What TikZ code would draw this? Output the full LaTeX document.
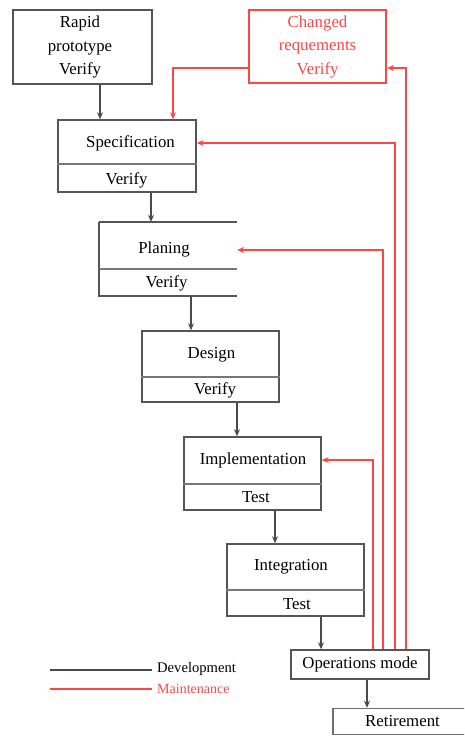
\documentclass[tikz,border=0pt]{standalone}
\usepackage{fontspec}
\setmainfont{Liberation Serif}
\usetikzlibrary{arrows.meta}
\definecolor{edge}{HTML}{555555}
\definecolor{devline}{HTML}{4A4A4A}
\definecolor{maint}{HTML}{FF4545}
\tikzset{
  phase/.style={draw=edge, line width=1.5pt, inner sep=0pt},
  phasetxt/.style={inner sep=0pt, align=center, font=\fontsize{16.8}{23.5}\selectfont},
  divider/.style={draw=edge!80, line width=1.2pt},
  dev/.style={draw=devline, line width=1.2pt, -{Stealth[length=7pt,width=6pt]}},
  mnt/.style={draw=maint, line width=1.8pt, -{Stealth[length=7pt,width=6pt]}},
  keytxt/.style={inner sep=0pt, anchor=west},
}
\begin{document}
\begin{tikzpicture}[x=1pt,y=-1pt]
\useasboundingbox (0,0) rectangle (464,736);
\clip (0,0) rectangle (464,736);

% ---- phase boxes ----
\node[phase, line width=2.6pt, minimum width=139pt, minimum height=74pt] (rapid) at (82.5,47) {};
\node[phasetxt] at (80,47) {Rapid\\prototype\\Verify};

\node[phase, draw=maint, line width=2pt, minimum width=137pt, minimum height=73pt] (changed) at (317.5,46.5) {};
\node[phasetxt, text=maint] at (317.5,46.5) {Changed\\requements\\Verify};

\node[phase, minimum width=138pt, minimum height=72pt] (spec) at (127,156) {};
\draw[divider] (spec.west |- 0,164) -- (spec.east |- 0,164);
\node[phasetxt] at (130.5,143) {Specification};
\node[phasetxt] at (126.5,180) {Verify};

% the planning box is open on its right-hand side
\node[inner sep=0pt, minimum width=138pt, minimum height=74pt] (plan) at (168,259) {};
\draw[draw=edge, line width=1.5pt] (plan.north west) -- (plan.south west) -- (plan.south east);
\draw[draw=edge, line width=2.6pt] (plan.north west) -- (plan.north east);
\draw[divider] (plan.west |- 0,269) -- (plan.east |- 0,269);
\node[phasetxt] at (164,249) {Planing};
\node[phasetxt] at (166.5,283) {Verify};

\node[phase, minimum width=137pt, minimum height=71pt] (design) at (210.5,366.5) {};
\draw[divider] (design.west |- 0,377) -- (design.east |- 0,377);
\node[phasetxt] at (211.5,355) {Design};
\node[phasetxt] at (215,390) {Verify};

\node[phase, minimum width=137pt, minimum height=73pt] (impl) at (252.5,473.5) {};
\draw[divider] (impl.west |- 0,484) -- (impl.east |- 0,484);
\node[phasetxt] at (253,460) {Implementation};
\node[phasetxt] at (256,497) {Test};

\node[phase, minimum width=137pt, minimum height=72pt] (integ) at (295.5,580) {};
\draw[divider] (integ.west |- 0,590) -- (integ.east |- 0,590);
\node[phasetxt] at (291,567) {Integration};
\node[phasetxt] at (297,604) {Test};

\node[phase, minimum width=138pt, minimum height=29pt] (ops) at (360,664.5) {};
\node[phasetxt] at (360,664) {Operations mode};

\node[phase, draw=edge!85, minimum width=147pt, minimum height=26pt] (retire) at (406.5,721.5) {};
\node[phasetxt] at (402.5,721) {Retirement};

% ---- development flow ----
\coordinate (d1) at (100,0);
\coordinate (d2) at (151,0);
\coordinate (d3) at (191,0);
\coordinate (d4) at (237,0);
\coordinate (d5) at (275,0);
\coordinate (d6) at (321,0);
\coordinate (d7) at (367,0);
\draw[dev] (d1 |- rapid.south) -- (d1 |- spec.north);
\draw[dev] (d2 |- spec.south) -- (d2 |- plan.north);
\draw[dev] (d3 |- plan.south) -- (d3 |- design.north);
\draw[dev] (d4 |- design.south) -- (d4 |- impl.north);
\draw[dev] (d5 |- impl.south) -- (d5 |- integ.north);
\draw[dev] (d6 |- integ.south) -- (d6 |- ops.north);
\draw[dev] (d7 |- ops.south) -- (d7 |- retire.north);

% ---- maintenance feedback ----
\coordinate (t1) at (373,460);
\coordinate (t2) at (383,250);
\coordinate (t3) at (395,143);
\coordinate (t4) at (406,68);
\coordinate (t5) at (173,68);
\draw[mnt] (t1 |- ops.north) -- (t1) -- (t1 -| impl.east);
\draw[mnt] (t2 |- ops.north) -- (t2) -- (t2 -| plan.east);
\draw[mnt] (t3 |- ops.north) -- (t3) -- (t3 -| spec.east);
\draw[mnt] (t4 |- ops.north) -- (t4) -- (t4 -| changed.east);
\draw[mnt] (t5 -| changed.west) -- (t5) -- (t5 |- spec.north);

% ---- key ----
\node[keytxt, font=\fontsize{14.6}{16}\selectfont] (devkey) at (157,669) {Development};
\node[keytxt, text=maint, font=\fontsize{14}{16}\selectfont] (mntkey) at (157,689) {Maintenance};
\coordinate (k1) at (50,670);
\coordinate (k2) at (50,689);
\draw[draw=devline, line width=2.2pt] (k1) -- (k1 -| 152,0);
\draw[draw=maint, line width=1.4pt] (k2) -- (k2 -| 152,0);
\end{tikzpicture}
\end{document}
